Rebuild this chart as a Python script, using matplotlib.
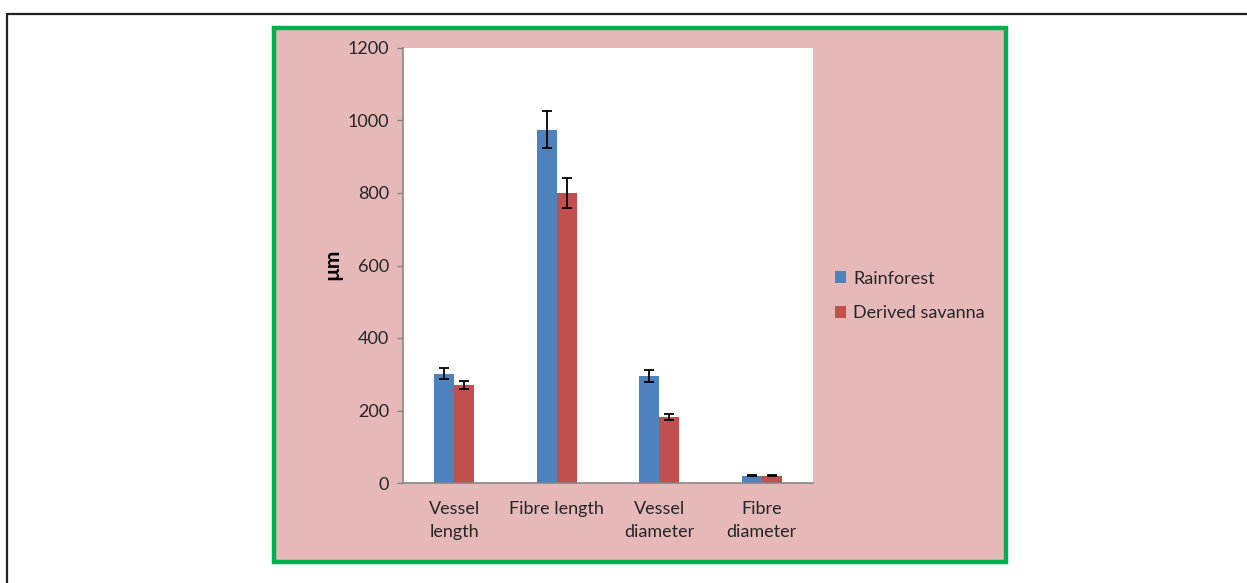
import matplotlib
matplotlib.use("Agg")
import matplotlib.pyplot as plt
from matplotlib.patches import Rectangle
import numpy as np

categories = ["Vessel\nlength", "Fibre length", "Vessel\ndiameter", "Fibre\ndiameter"]
rainforest = [301, 975, 295, 20]
rainforest_err = [15, 50, 17, 2]
savanna = [270, 800, 182, 20]
savanna_err = [12, 41, 8, 1.5]
series_names = ["Rainforest", "Derived savanna"]
yticks = [0, 200, 400, 600, 800, 1000, 1200]

plt.rcParams['font.family'] = ['Lato', 'DejaVu Sans']

W, H = 1247, 583
fig = plt.figure(figsize=(W / 100, H / 100), dpi=100)
fig.patch.set_facecolor("white")

# outer black frame
fig.patches.append(Rectangle((7 / W, -0.1), 1.2, 1 - 14 / H + 0.1, transform=fig.transFigure,
                             fill=False, edgecolor="#222222", linewidth=1.6, zorder=-2))
# pink chart area with green border
fig.patches.append(Rectangle((274 / W, 1 - 562 / H), (1006 - 274) / W, (562 - 28) / H,
                             transform=fig.transFigure, facecolor="#E6B9B8",
                             edgecolor="#00B050", linewidth=3.2, zorder=-1))

ax = fig.add_axes([403 / W, 1 - 483 / H, (813 - 403) / W, (483 - 48) / H])
ax.set_facecolor("white")

x = np.arange(len(categories))
bw = 0.195
ekw = dict(ecolor="black", elinewidth=1.3, capsize=3.5, capthick=1.3)
ax.bar(x - bw / 2, rainforest, bw, color="#4F81BD", yerr=rainforest_err, error_kw=ekw,
       label=series_names[0], zorder=2)
ax.bar(x + bw / 2, savanna, bw, color="#C0504D", yerr=savanna_err, error_kw=ekw,
       label=series_names[1], zorder=2)

ax.set_xlim(-0.5, len(categories) - 0.5)
ax.set_ylim(0, 1200)
ax.set_yticks(yticks)
ax.set_xticks(x)
ax.set_xticklabels(categories, fontsize=13, color="#262626", linespacing=1.5)
ax.tick_params(axis="y", labelsize=13, labelcolor="#262626", color="#868686",
               length=4, width=1, direction="out", pad=6)
ax.tick_params(axis="x", length=0, pad=13)
for s in ["top", "right"]:
    ax.spines[s].set_visible(False)
for s in ["left", "bottom"]:
    ax.spines[s].set_color("#868686")
    ax.spines[s].set_linewidth(1.2)

fig.text(332 / W, 1 - 264 / H, "µm", rotation=90, fontsize=15, fontweight="bold",
         ha="center", va="center", color="black")

leg = ax.legend(loc="center left", bbox_to_anchor=(828 / W, 1 - 296 / H),
                bbox_transform=fig.transFigure, frameon=False, fontsize=13,
                handlelength=0.6, handleheight=0.6, handletextpad=0.4,
                labelspacing=1.05, borderaxespad=0)
for t in leg.get_texts():
    t.set_color("#262626")

fig.savefig("out.png", dpi=100, facecolor="white")
